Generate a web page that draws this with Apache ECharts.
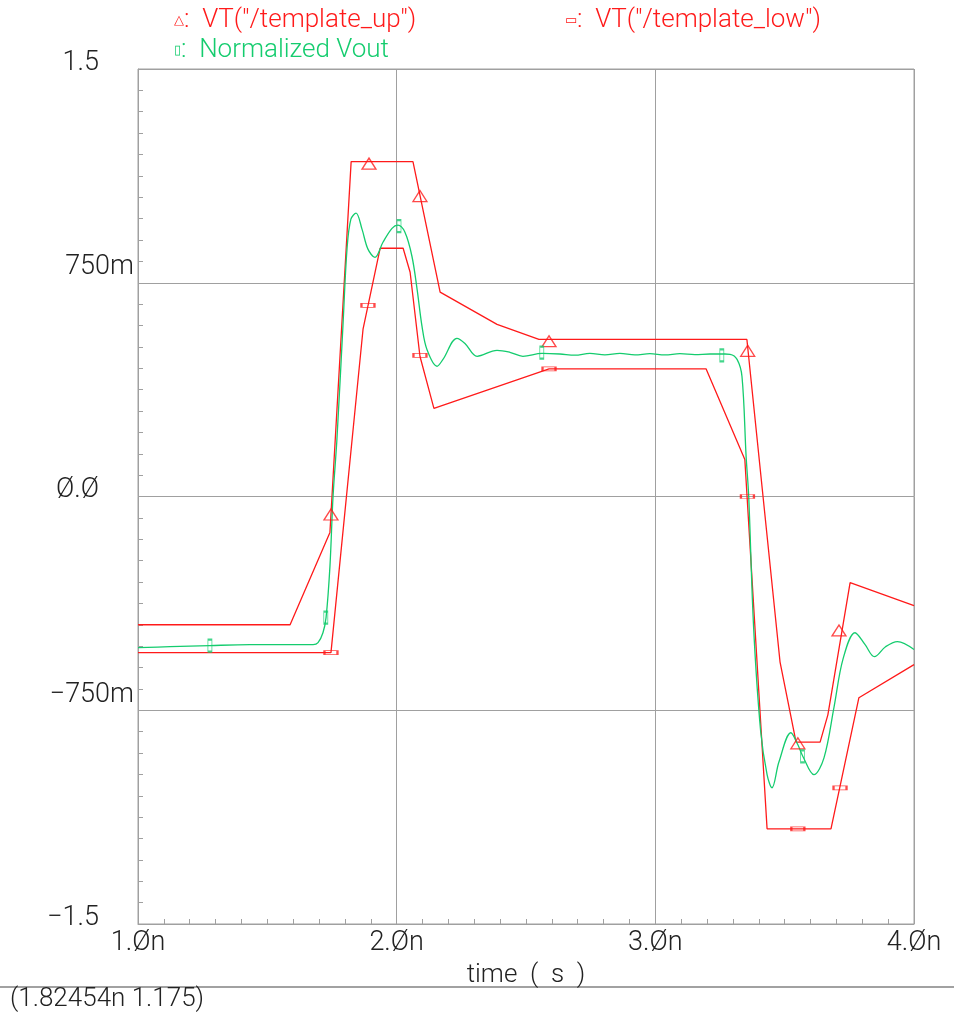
<!DOCTYPE html>
<html>
<head>
<meta charset="utf-8">
<script src="https://cdn.jsdelivr.net/npm/echarts@6/dist/echarts.min.js"></script>
<style>
html, body { margin: 0; padding: 0; background: #fff; }
#myEchart { width: 954px; height: 1014px; }
</style>
</head>
<body>
<div id="myEchart"></div>
<script>
// time in ns, value in V
var templateUp = [
    [1.000, -0.450], [1.588, -0.450], [1.742, -0.126], [1.824, 1.175], [2.063, 1.175],
    [2.168, 0.717], [2.388, 0.604], [2.550, 0.551], [3.354, 0.551], [3.482, -0.580],
    [3.544, -0.862], [3.637, -0.862], [3.667, -0.766], [3.753, -0.302], [4.000, -0.383]
];
var templateLow = [
    [1.000, -0.548], [1.746, -0.548], [1.870, 0.587], [1.936, 0.871], [2.025, 0.871],
    [2.052, 0.787], [2.090, 0.492], [2.144, 0.309], [2.589, 0.448], [3.196, 0.448],
    [3.346, 0.130], [3.432, -1.166], [3.679, -1.166], [3.787, -0.706], [4.000, -0.590]
];
var vout = [
    [1.000, -0.530], [1.124, -0.527], [1.278, -0.523], [1.433, -0.520], [1.588, -0.520],
    [1.677, -0.520], [1.696, -0.513], [1.715, -0.478], [1.727, -0.425], [1.742, -0.246],
    [1.754, 0.000], [1.769, 0.200], [1.793, 0.611], [1.808, 0.868], [1.823, 0.973],
    [1.843, 0.994], [1.866, 0.938], [1.889, 0.868], [1.916, 0.839], [1.947, 0.892],
    [1.982, 0.941], [2.005, 0.952], [2.032, 0.927], [2.059, 0.843], [2.079, 0.727],
    [2.098, 0.597], [2.117, 0.516], [2.156, 0.457], [2.179, 0.481], [2.233, 0.555],
    [2.264, 0.537], [2.311, 0.492], [2.388, 0.513], [2.438, 0.506], [2.488, 0.492],
    [2.562, 0.502], [2.631, 0.500], [2.689, 0.496], [2.747, 0.502], [2.805, 0.497],
    [2.863, 0.502], [2.921, 0.497], [2.979, 0.501], [3.037, 0.497], [3.095, 0.501],
    [3.153, 0.498], [3.211, 0.500], [3.269, 0.500], [3.289, 0.499], [3.316, 0.481],
    [3.335, 0.421], [3.351, 0.140], [3.361, 0.000], [3.380, -0.460], [3.407, -0.822],
    [3.432, -0.976], [3.451, -1.022], [3.478, -0.931], [3.524, -0.829], [3.551, -0.871],
    [3.571, -0.913], [3.613, -0.976], [3.652, -0.917], [3.691, -0.738], [3.726, -0.569],
    [3.772, -0.478], [3.811, -0.520], [3.847, -0.562], [3.890, -0.527], [3.936, -0.509],
    [4.000, -0.537]
];
var upMarks = [[1.893, 1.168], [2.090, 1.054], [1.746, -0.063], [2.589, 0.545], [3.357, 0.511], [3.551, -0.866], [3.710, -0.470]];
var lowMarks = [[1.746, -0.548], [1.889, 0.671], [2.090, 0.495], [2.589, 0.448], [3.356, 0.000], [3.551, -1.166], [3.714, -1.022]];
var voutMarks = [[1.278, -0.523], [1.726, -0.425], [2.009, 0.949], [2.561, 0.505], [3.257, 0.495], [3.569, -0.912]];

var xTickLabels = ['1.Øn', '2.Øn', '3.Øn', '4.Øn'];
var yTickValues = [-1.5, -0.75, 0, 0.75, 1.5];
var yTickLabels = ['−1.5', '−750m', 'Ø.Ø', '750m', '1.5'];

var red = '#ff1a1a';
var green = '#14cc6e';
var gray = '#a0a0a0';
var font = 'Roboto, "DejaVu Sans", sans-serif';

var myChart = echarts.init(document.getElementById("myEchart"));
myChart.setOption({
    animation: false,
    backgroundColor: '#fff',
    grid: {
        show: true,
        left: 138,
        right: 40,
        top: 69,
        bottom: 90,
        borderColor: gray,
        borderWidth: 1
    },
    xAxis: {
        type: 'value',
        min: 1,
        max: 4,
        interval: 1,
        name: 'time  (  s  )',
        nameLocation: 'middle',
        nameGap: 38,
        nameTextStyle: { fontFamily: font, fontWeight: 300, fontSize: 26, color: '#222' },
        axisLine: { show: true, onZero: false, lineStyle: { color: gray } },
        axisTick: { show: false, inside: true },
        minorTick: { show: true, splitNumber: 10, length: 5, lineStyle: { color: gray } },
        splitLine: { show: true, lineStyle: { color: gray } },
        axisLabel: {
            fontFamily: font, fontWeight: 300, fontSize: 27, color: '#222', margin: 6,
            formatter: function(v) { return xTickLabels[Math.round(v) - 1]; }
        }
    },
    yAxis: {
        type: 'value',
        min: -1.5,
        max: 1.5,
        interval: 0.75,
        axisLine: { show: true, onZero: false, lineStyle: { color: gray } },
        axisTick: { show: false, inside: true },
        minorTick: { show: true, splitNumber: 10, length: 5, lineStyle: { color: gray } },
        splitLine: { show: true, lineStyle: { color: gray } },
        axisLabel: {
            fontFamily: font, fontWeight: 300, fontSize: 27, color: '#222', margin: 4,
            verticalAlign: 'bottom',
            formatter: function(v) {
                for (var i = 0; i < yTickValues.length; i++) {
                    if (Math.abs(yTickValues[i] - v) < 1e-6) {
                        return (i % 2 ? '{m|' : '{p|') + yTickLabels[i] + '}';
                    }
                }
                return '';
            },
            rich: {
                p: { fontFamily: font, fontWeight: 300, fontSize: 27, color: '#222', lineHeight: 12, padding: [0, 35, 0, 0] },
                m: { fontFamily: font, fontWeight: 300, fontSize: 27, color: '#222', lineHeight: 22, padding: [0, 0, 9, 0] }
            }
        }
    },
    series: [{
        type: 'line',
        data: templateUp,
        symbol: 'none',
        lineStyle: { color: red, width: 1.3 }
    }, {
        type: 'line',
        data: templateLow,
        symbol: 'none',
        lineStyle: { color: red, width: 1.3 }
    }, {
        type: 'line',
        data: vout,
        symbol: 'none',
        smooth: 0.35,
        lineStyle: { color: green, width: 1.3 }
    }, {
        type: 'scatter',
        data: upMarks,
        symbol: 'triangle',
        symbolSize: [14, 11],
        itemStyle: { color: 'rgba(255,255,255,0)', borderColor: red, borderWidth: 1.3 },
        z: 5
    }, {
        type: 'scatter',
        data: lowMarks,
        symbol: 'rect',
        symbolSize: [13, 4],
        itemStyle: { color: 'rgba(255,255,255,0)', borderColor: red, borderWidth: 1.3 },
        z: 5
    }, {
        type: 'scatter',
        data: voutMarks,
        symbol: 'rect',
        symbolSize: [4, 12],
        itemStyle: { color: 'rgba(255,255,255,0)', borderColor: green, borderWidth: 1.3 },
        z: 5
    }],
    graphic: [{
        type: 'text', left: 174, top: 7,
        style: {
            text: '{s|△}:  VT("/template_up")', fill: red, font: '300 26px ' + font,
            rich: { s: { fontSize: 13, fill: red } }
        }
    }, {
        type: 'text', left: 565, top: 7,
        style: {
            text: '{s|▭}:  VT("/template_low")', fill: red, font: '300 26px ' + font,
            rich: { s: { fontSize: 13, fill: red } }
        }
    }, {
        type: 'text', left: 174, top: 37,
        style: {
            text: '{s|▯}:  Normalized Vout', fill: green, font: '300 26px ' + font,
            rich: { s: { fontSize: 13, fill: green } }
        }
    }, {
        type: 'line', shape: { x1: 0, y1: 987, x2: 954, y2: 987 },
        style: { stroke: '#444', lineWidth: 1.2 }
    }, {
        type: 'text', left: 10, top: 986,
        style: { text: '(1.82454n 1.175)', fill: '#222', font: '300 26px ' + font }
    }]
});
</script>
</body>
</html>
